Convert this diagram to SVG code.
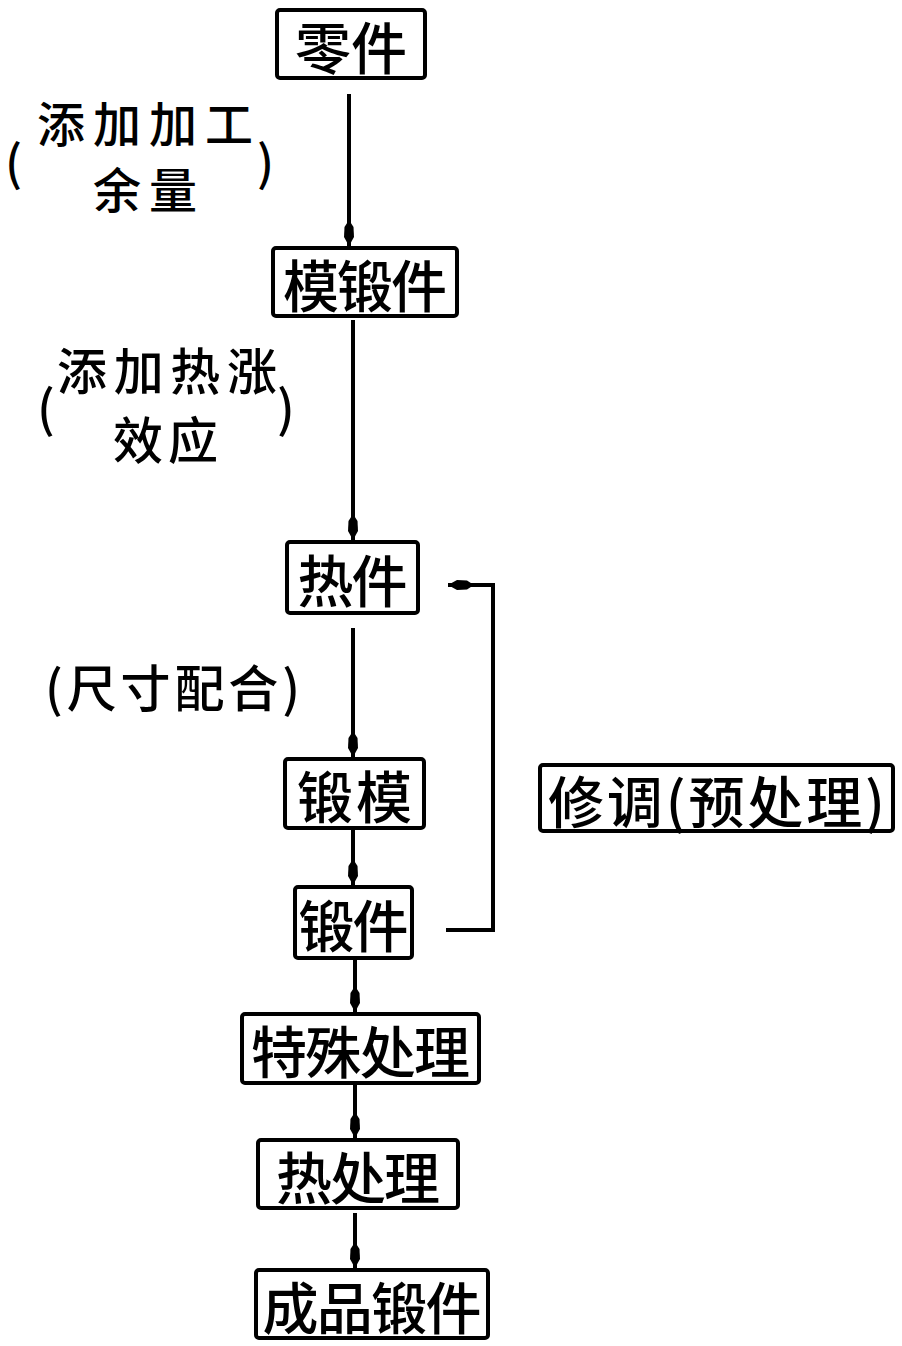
<svg xmlns="http://www.w3.org/2000/svg" width="902" height="1346" viewBox="0 0 902 1346">
<style>
.box{fill:#fff;stroke:#000;stroke-width:4}
.t{font-family:"Noto Sans CJK SC","Noto Sans",sans-serif;font-size:56px;font-weight:500;fill:#000;text-anchor:middle;dominant-baseline:central}
.lbl{font-family:"Noto Sans CJK SC","Noto Sans",sans-serif;font-size:50px;font-weight:500;fill:#000;dominant-baseline:central}
.sm{font-size:48px}
.ln{fill:none;stroke:#000;stroke-width:4}
</style>
<defs>
<marker id="ah" markerUnits="userSpaceOnUse" markerWidth="26" markerHeight="12" viewBox="0 0 26 12" refX="26" refY="6" orient="auto">
<path d="M0,6 L7,1.5 L17,1 L26,6 L17,11 L7,10.5 Z" fill="#000"/>
</marker>
</defs>
<rect width="902" height="1346" fill="#fff"/>
<g id="connectors">
<line class="ln" x1="349" y1="94" x2="349" y2="246" marker-end="url(#ah)"/>
<line class="ln" x1="353" y1="320" x2="353" y2="540" marker-end="url(#ah)"/>
<line class="ln" x1="353" y1="628" x2="353" y2="757" marker-end="url(#ah)"/>
<line class="ln" x1="353" y1="830" x2="353" y2="885" marker-end="url(#ah)"/>
<line class="ln" x1="355" y1="960" x2="355" y2="1012" marker-end="url(#ah)"/>
<line class="ln" x1="355" y1="1085" x2="355" y2="1138" marker-end="url(#ah)"/>
<line class="ln" x1="355" y1="1213" x2="355" y2="1268" marker-end="url(#ah)"/>
<polyline class="ln" points="446,930 493,930 493,585 448,585" marker-end="url(#ah)"/>
</g>
<g id="n1"><rect class="box" x="277" y="10" width="148" height="68" rx="3"/><text class="t" x="351" y="44" textLength="112">零件</text></g>
<g id="n2"><rect class="box" x="273" y="248" width="184" height="68" rx="3"/><text class="t" x="365" y="282" textLength="164">模锻件</text></g>
<g id="n3"><rect class="box" x="287" y="542" width="131" height="71" rx="3"/><text class="t" x="352.5" y="577" textLength="110">热件</text></g>
<g id="n4"><rect class="box" x="285" y="759" width="139" height="69" rx="3"/><text class="t" x="354.5" y="793" textLength="115">锻模</text></g>
<g id="n5"><rect class="box" x="295" y="887" width="117" height="71" rx="3"/><text class="t" x="353.5" y="922" textLength="110">锻件</text></g>
<g id="n6"><rect class="box" x="242" y="1014" width="237" height="69" rx="3"/><text class="t" x="360.5" y="1048" textLength="219">特殊处理</text></g>
<g id="n7"><rect class="box" x="258" y="1140" width="200" height="68" rx="3"/><text class="t" x="358" y="1174" textLength="164">热处理</text></g>
<g id="n8"><rect class="box" x="256" y="1270" width="232" height="68" rx="3"/><text class="t" x="372" y="1304" textLength="219">成品锻件</text></g>
<g id="n9"><rect class="box" x="540" y="765" width="353" height="66" rx="3"/><text class="t" x="716.5" y="798" textLength="337" lengthAdjust="spacing">修调(预处理)</text></g>
<g id="label1">
<text class="lbl sm" x="37" y="121" textLength="216">添加加工</text>
<text class="lbl sm" x="5" y="160">(</text>
<text class="lbl sm" x="257" y="160">)</text>
<text class="lbl sm" x="93" y="187" textLength="104">余量</text>
</g>
<g id="label2">
<text class="lbl" x="57" y="368" textLength="220">添加热涨</text>
<text class="lbl" x="37" y="405">(</text>
<text class="lbl" x="277" y="405">)</text>
<text class="lbl" x="113" y="437" textLength="105">效应</text>
</g>
<g id="label3">
<text class="lbl" x="45" y="685" textLength="255">(尺寸配合)</text>
</g>
</svg>
